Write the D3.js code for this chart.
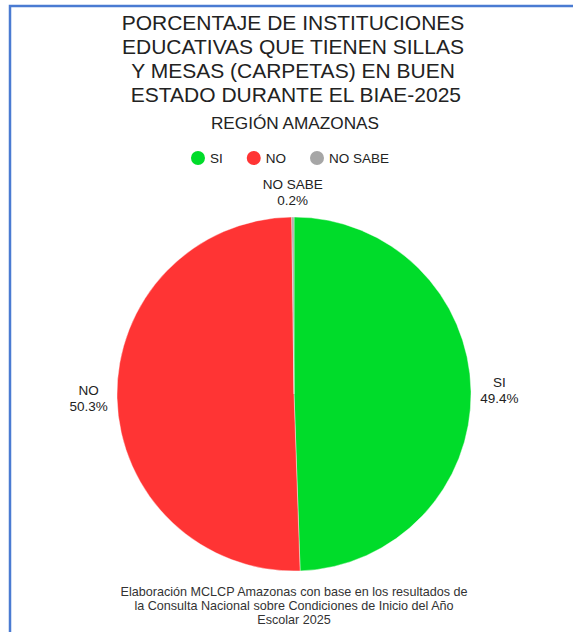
<!DOCTYPE html>
<html>
<head>
<meta charset="utf-8">
<script src="https://cdn.jsdelivr.net/npm/d3@7"></script>
<style>
  body { margin: 0; background: #fff; }
  text { font-family: "Liberation Sans", Arial, sans-serif; }
</style>
</head>
<body>
<script>
// chart data
var categories = ["SI", "NO", "NO SABE"];
var values = [49.4, 50.3, 0.2];
var labels = ["49.4%", "50.3%", "0.2%"];
var colors = ["#00dc2a", "#ff3434", "#a6a6a6"];

var titleLines = [
    "PORCENTAJE DE INSTITUCIONES",
    "EDUCATIVAS QUE TIENEN SILLAS",
    "Y MESAS (CARPETAS) EN BUEN",
    " ESTADO DURANTE EL BIAE-2025"
];
var subtitle = "REGIÓN AMAZONAS";
var footerLines = [
    "Elaboración MCLCP Amazonas con base en los resultados de",
    "la Consulta Nacional sobre Condiciones de Inicio del Año",
    "Escolar 2025"
];

var width = 573, height = 632,
    cx = 294, cy = 394, radius = 177;

var svg = d3.select("body").append("svg")
    .attr("width", width)
    .attr("height", height);

// frame
svg.append("rect")
    .attr("x", 10).attr("y", 6)
    .attr("width", 600).attr("height", 660)
    .attr("fill", "none")
    .attr("stroke", "#4a7bd2")
    .attr("stroke-width", 2.5);

// title
svg.selectAll("text.title")
    .data(titleLines)
    .enter().append("text")
    .attr("class", "title")
    .attr("x", 293)
    .attr("y", function(d, i) { return 30 + i * 24; })
    .attr("text-anchor", "middle")
    .attr("fill", "#222")
    .style("font-size", "21px")
    .style("white-space", "pre")
    .text(function(d) { return d; });

svg.append("text")
    .attr("x", 295)
    .attr("y", 129)
    .attr("text-anchor", "middle")
    .attr("fill", "#222")
    .style("font-size", "17.2px")
    .text(subtitle);

// legend
var legend = svg.append("g");
var lx = 0;
categories.forEach(function(c, i) {
    var g = legend.append("g").attr("transform", "translate(" + lx + ",0)");
    g.append("circle")
        .attr("cx", 7).attr("cy", 0).attr("r", 7)
        .attr("fill", colors[i]);
    var t = g.append("text")
        .attr("x", 19).attr("y", 5)
        .attr("fill", "#222")
        .style("font-size", "13.5px")
        .text(c);
    lx += 19 + t.node().getComputedTextLength() + 24;
});
lx -= 24;
legend.attr("transform", "translate(" + (290 - lx / 2) + ",158)");

// pie
var pie = d3.pie().sort(null).value(function(d) { return d; });
var arc = d3.arc().innerRadius(0).outerRadius(radius);
var arcs = pie(values);

var g = svg.append("g").attr("transform", "translate(" + cx + "," + cy + ")");

g.selectAll("path")
    .data(arcs)
    .enter().append("path")
    .attr("d", arc)
    .attr("fill", function(d, i) { return colors[i]; })
    .attr("stroke", "#fff")
    .attr("stroke-width", 0.4);

// outside labels
g.selectAll("g.lbl")
    .data(arcs)
    .enter().append("g")
    .attr("class", "lbl")
    .each(function(d, i) {
        var sel = d3.select(this);
        var t = sel.append("text")
            .attr("text-anchor", "middle")
            .attr("fill", "#222")
            .style("font-size", "13.5px");
        t.append("tspan").attr("x", 0).attr("y", -3).text(categories[i]);
        t.append("tspan").attr("x", 0).attr("y", 13).text(labels[i]);
        var bb = t.node().getBBox();
        var a = (d.startAngle + d.endAngle) / 2;
        var s = Math.sin(a), c = Math.cos(a);
        var dist = radius + 9 + Math.abs(s) * bb.width / 2 + Math.abs(c) * bb.height / 2;
        var ox = s * dist, oy = -c * dist;
        sel.attr("transform", "translate(" + ox + "," + (oy - (bb.y + bb.height / 2)) + ")");
    });

// footer
svg.selectAll("text.footer")
    .data(footerLines)
    .enter().append("text")
    .attr("class", "footer")
    .attr("x", 294)
    .attr("y", function(d, i) { return 596 + i * 14; })
    .attr("text-anchor", "middle")
    .attr("fill", "#333")
    .style("font-size", "12.6px")
    .text(function(d) { return d; });
</script>
</body>
</html>
